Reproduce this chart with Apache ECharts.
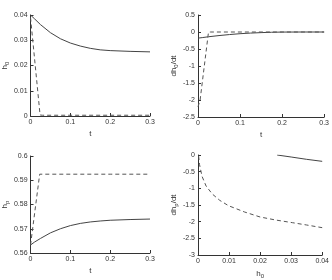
<!DOCTYPE html>
<html>
<head>
  <meta charset="utf-8" />
  <script src="https://cdn.jsdelivr.net/npm/echarts@6/dist/echarts.min.js"></script>
  <style>
    html, body { margin: 0; padding: 0; background: #fff; }
    #chart { width: 332px; height: 280px; }
  </style>
</head>
<body>
  <div id="chart"></div>
  <script type="text/javascript">
    // values
    var tSolid = [0, 0.01, 0.025, 0.05, 0.075, 0.1, 0.125, 0.15, 0.175, 0.2, 0.25, 0.3]
    var h0Solid = [0.0400, 0.0385, 0.0362, 0.0330, 0.0306, 0.0289, 0.0277, 0.0268, 0.0262, 0.0259, 0.0256, 0.0254]
    var tDash = [0, 0.024, 0.03, 0.1, 0.2, 0.3]
    var h0Dash = [0.0390, 0.0004, 0.0003, 0.0003, 0.0003, 0.0003]

    var dh0Solid = [-0.18, -0.165, -0.14, -0.105, -0.075, -0.05, -0.032, -0.018, -0.008, -0.002, 0, 0]
    var dh0DashT = [0, 0.005, 0.015, 0.025, 0.03, 0.1, 0.2, 0.3]
    var dh0Dash = [-2.2, -2.0, -1.0, 0.0, 0.0, 0.0, 0.0, 0.0]

    var hpSolid = [0.5633, 0.5645, 0.5660, 0.5683, 0.5700, 0.5713, 0.5722, 0.5728, 0.5732, 0.5735, 0.5738, 0.5740]
    var hpDashT = [0, 0.023, 0.03, 0.1, 0.2, 0.3]
    var hpDash = [0.5633, 0.5925, 0.5925, 0.5925, 0.5925, 0.5925]

    var phSolidH = [0.0255, 0.03, 0.035, 0.04]
    var phSolid = [0.0, -0.06, -0.13, -0.19]
    var phDashH = [0.0002, 0.0005, 0.0013, 0.0026, 0.0046, 0.0070, 0.0098, 0.015, 0.020, 0.025, 0.0304, 0.035, 0.04]
    var phDash = [-0.03, -0.29, -0.64, -0.93, -1.17, -1.36, -1.52, -1.71, -1.86, -1.95, -2.03, -2.1, -2.18]

    function pairs(xs, ys) {
      return xs.map(function (x, i) { return [x, ys[i]] })
    }

    var font = "Liberation Sans"
    var ink = "#333"

    var richName = {
      a: { fontFamily: font, fontSize: 8, color: ink },
      s: { fontFamily: font, fontSize: 6, color: ink, verticalAlign: "bottom", padding: [4, 0, 0, 0] }
    }

    function xAx(idx, max, interval, name) {
      return {
        type: "value", gridIndex: idx, min: 0, max: max, interval: interval,
        name: name, nameLocation: "middle", nameGap: 14,
        nameTextStyle: { fontFamily: font, fontSize: 8, color: ink, rich: richName },
        axisLine: { show: true, onZero: false, lineStyle: { color: ink, width: 1 } },
        axisTick: { show: true, inside: true, length: 3, lineStyle: { color: ink } },
        axisLabel: { fontFamily: font, fontSize: 7, color: ink, margin: 3 },
        splitLine: { show: false }
      }
    }

    function yAx(idx, min, max, interval, name, gap) {
      return {
        type: "value", gridIndex: idx, min: min, max: max, interval: interval,
        name: name, nameLocation: "middle", nameGap: gap, nameRotate: 90,
        nameTextStyle: { fontFamily: font, fontSize: 8, color: ink, rich: richName },
        axisLine: { show: true, onZero: false, lineStyle: { color: ink, width: 1 } },
        axisTick: { show: true, inside: true, length: 3, lineStyle: { color: ink } },
        axisLabel: { fontFamily: font, fontSize: 7, color: ink, margin: 3 },
        splitLine: { show: false }
      }
    }

    function line(idx, data, dashed) {
      return {
        type: "line", xAxisIndex: idx, yAxisIndex: idx, data: data,
        showSymbol: false, symbol: "none", animation: false,
        lineStyle: { color: dashed ? "#555" : "#444", width: 1, type: dashed ? [4, 3] : "solid" }
      }
    }

    var myChart = echarts.init(document.getElementById("chart"), null, { renderer: "canvas" })

    var option = {
      backgroundColor: "#fff",
      animation: false,
      grid: [
        { left: 20, top: 15, width: 130, height: 101 },
        { left: 198, top: 15, width: 129, height: 102 },
        { left: 21, top: 156, width: 129, height: 97 },
        { left: 198, top: 155, width: 129, height: 102 }
      ],
      xAxis: [
        xAx(0, 0.3, 0.1, "t"),
        xAx(1, 0.3, 0.1, "t"),
        xAx(2, 0.3, 0.1, "t"),
        xAx(3, 0.04, 0.01, "{a|h}{s|0}")
      ],
      yAxis: [
        yAx(0, 0, 0.04, 0.01, "{a|h}{s|0}", 14),
        yAx(1, -2.5, 0.5, 0.5, "{a|dh}{s|0}{a|/dt}", 18),
        yAx(2, 0.56, 0.6, 0.01, "{a|h}{s|p}", 16),
        yAx(3, -3, 0, 0.5, "{a|dh}{s|p}{a|/dt}", 18)
      ],
      series: [
        line(0, pairs(tSolid, h0Solid), false),
        line(0, pairs(tDash, h0Dash), true),
        line(1, pairs(tSolid, dh0Solid), false),
        line(1, pairs(dh0DashT, dh0Dash), true),
        line(2, pairs(tSolid, hpSolid), false),
        line(2, pairs(hpDashT, hpDash), true),
        line(3, pairs(phSolidH, phSolid), false),
        line(3, pairs(phDashH, phDash), true)
      ]
    }
    myChart.setOption(option, true)
  </script>
</body>
</html>
